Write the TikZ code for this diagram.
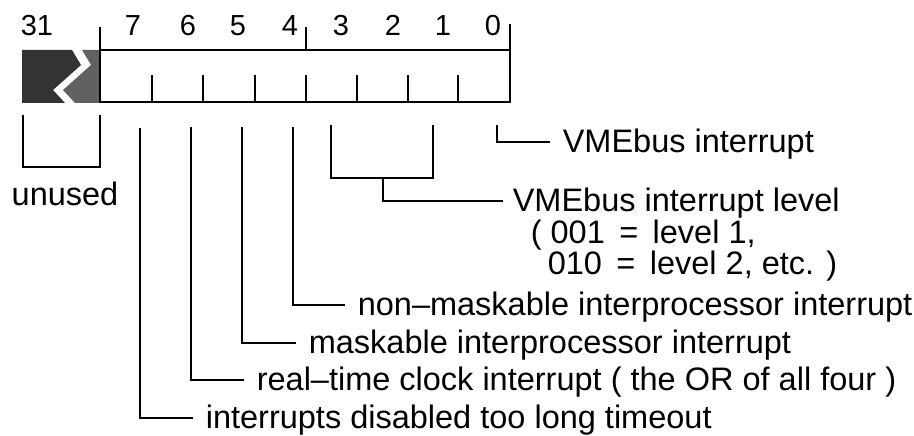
\documentclass[tikz,border=0pt]{standalone}
\usepackage{fontspec}
\setmainfont{Liberation Sans}
\begin{document}
\begin{tikzpicture}[x=1pt,y=-1pt,line width=1.6pt,
  lbl/.style={font=\fontsize{32.5}{38}\selectfont,anchor=west,inner xsep=12pt,inner ysep=0pt,text height=30pt,text depth=10pt},
  sub/.style={font=\fontsize{32.5}{38}\selectfont,anchor=base west,inner sep=0pt},
  dig/.style={font=\fontsize{29}{32}\selectfont,anchor=base,inner sep=0pt},
  conn/.style={line width=1.6pt,line join=miter}]
\useasboundingbox (0,0) rectangle (914,436);
% unused block
\fill[black!80] (22,50) -- (72,50) -- (81,65) -- (53,90) -- (65,103) -- (22,103) -- cycle;
\fill[black!62] (82,50) -- (100,50) -- (100,103) -- (75,103) -- (63,90) -- (91,65) -- cycle;
% register box
\draw (100,50) rectangle (510,102);
\foreach \x in {152,203,255,306,357,408,458} \draw (\x,102) -- (\x,75);
\draw (100,50) -- (100,27);
\draw (306,50) -- (306,27);
\draw (510,50) -- (510,24);
% bit numbers
\node[dig] (n31) at (37,36) {31};
\node[dig] (n7) at (133,36) {7};
\node[dig] (n6) at (188,36) {6};
\node[dig] (n5) at (238,36) {5};
\node[dig] (n4) at (290,36) {4};
\node[dig] (n3) at (341,36) {3};
\node[dig] (n2) at (393,36) {2};
\node[dig] (n1) at (443,36) {1};
\node[dig] (n0) at (493,36) {0};
% anchor coordinates
\coordinate (ua) at (23,115);
\coordinate (ub) at (100,115);
\coordinate (b7) at (140,128);
\coordinate (b6) at (191,127);
\coordinate (b5) at (242,127);
\coordinate (b4) at (293,127);
\coordinate (b3) at (331,125);
\coordinate (b1) at (433,125);
\coordinate (b31m) at (383,178);
\coordinate (b0) at (497,125);
% labels
\node[sub,anchor=base] (unused) at (65,205) {unused};
\node[lbl] (t0) at (550,142) {VMEbus interrupt};
\node[lbl,inner xsep=9pt] (t31) at (503,201) {VMEbus interrupt level};
\node[sub] (t31b) at (530,243) {( 001 \,=\, level 1,};
\node[sub] (t31c) at (547,274) {010 \,=\, level 2, etc. )};
\node[lbl] (t4) at (345,305) {non–maskable interprocessor interrupt};
\node[lbl] (t5) at (296,343) {maskable interprocessor interrupt};
\node[lbl] (t6) at (244,380) {real–time clock interrupt ( the OR of all four )};
\node[lbl] (t7) at (193,418) {interrupts disabled too long timeout};
% connectors
\draw[conn] (ua) |- (100,167) -- (ub);
\draw[conn] (b0) |- (t0.west);
\draw[conn] (b3) |- (b31m) -| (b1);
\draw[conn] (b31m) |- (t31.west);
\draw[conn] (b4) |- (t4.west);
\draw[conn] (b5) |- (t5.west);
\draw[conn] (b6) |- (t6.west);
\draw[conn] (b7) |- (t7.west);
\end{tikzpicture}
\end{document}
